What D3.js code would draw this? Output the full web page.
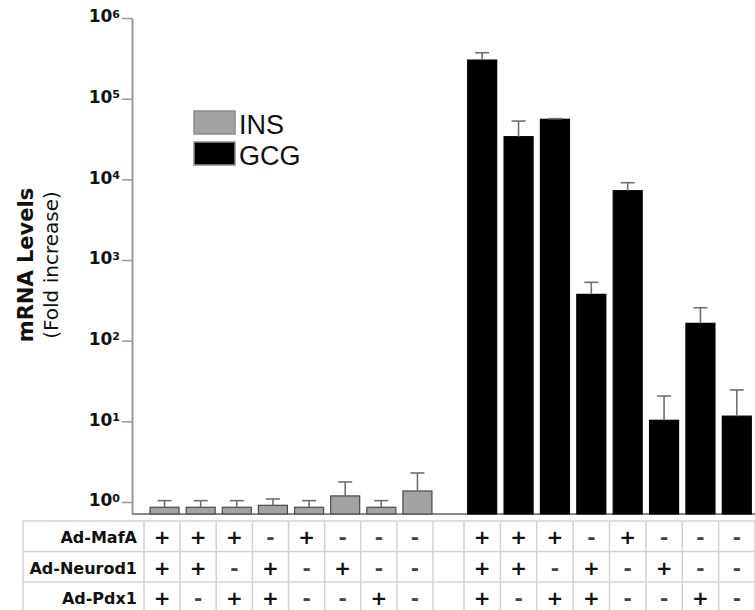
<!DOCTYPE html>
<html>
<head>
<meta charset="utf-8">
<script src="https://cdn.jsdelivr.net/npm/d3@7"></script>
<style>
  body { margin: 0; background: #fff; }
  svg { display: block; font-family: "DejaVu Sans", sans-serif; }
</style>
</head>
<body>
<div id="chartArea"></div>
<script>
// data
const treatments = ["Ad-MafA", "Ad-Neurod1", "Ad-Pdx1"];
const mafA    = ["+", "+", "+", "-", "+", "-", "-", "-"];
const neurod1 = ["+", "+", "-", "+", "-", "+", "-", "-"];
const pdx1    = ["+", "-", "+", "+", "-", "-", "+", "-"];
const insValues = [0.86, 0.86, 0.86, 0.91, 0.86, 1.19, 0.86, 1.37];
const insErrors = [0.18, 0.18, 0.18, 0.18, 0.18, 0.58, 0.18, 0.92];
const gcgValues = [301000, 33800, 55500, 375, 7230, 10.3, 164, 11.6];
const gcgErrors = [70000, 19000, 1000, 154, 1850, 10.3, 92, 12.9];
const yTicks = [1, 10, 100, 1000, 10000, 100000, 1000000];
const seriesNames = ["INS", "GCG"];

// constants
const width = 755, height = 610;
const axisX = 132;
const tableTop = 521, rowHeight = 30.5, tableLeft = 23;
const barWidth = 29;
const colors = { INS: "#a3a3a3", GCG: "#000" };
const strokes = { INS: "#4a4a4a", GCG: "#000" };
const shift = { INS: 2.5, GCG: 0 };   // INS bars sit a bit right of their column centre

var svg = d3.select("#chartArea").append("svg")
    .attr("width", width)
    .attr("height", height);

// slot 0-7 = INS, slot 8 = empty gap, slot 9-16 = GCG
var xScale = d3.scaleLinear().domain([0, 8, 9, 17]).range([144, 433, 464, 755]);
var yScale = d3.scaleLog().domain([0.71, 1e6]).range([514, 18]);

var bars = [];
insValues.forEach(function (v, i) { bars.push({ s: "INS", slot: i, value: v, err: insErrors[i] }); });
gcgValues.forEach(function (v, i) { bars.push({ s: "GCG", slot: i + 9, value: v, err: gcgErrors[i] }); });

function barCenter(d) { return xScale(d.slot + 0.5) + shift[d.s]; }

// y axis
var yAxis = d3.axisLeft(yScale).tickValues(yTicks).tickSize(10).tickPadding(2).tickSizeOuter(0);
var gy = svg.append("g")
    .attr("class", "y axis")
    .attr("transform", "translate(" + axisX + ",0)")
    .call(yAxis);
gy.select(".domain").attr("stroke", "#9a9a9a").attr("stroke-width", 2);
gy.selectAll(".tick line").attr("stroke", "#9a9a9a").attr("stroke-width", 1.5);
gy.selectAll(".tick text").each(function (d) {
    var t = d3.select(this).text(null)
        .attr("dy", "0.22em")
        .attr("font-family", "DejaVu Sans")
        .attr("font-weight", "bold")
        .attr("font-size", 17)
        .attr("fill", "#111");
    t.append("tspan").text("10");
    t.append("tspan").attr("dy", "-0.42em").attr("font-size", 11).text(Math.round(Math.log10(d)));
});

// baseline
svg.append("line")
    .attr("x1", axisX).attr("x2", width)
    .attr("y1", yScale.range()[0]).attr("y2", yScale.range()[0])
    .attr("stroke", "#8a8a8a").attr("stroke-width", 2);

// axis title
svg.append("text")
    .attr("transform", "translate(33,265) rotate(-90)")
    .attr("text-anchor", "middle")
    .attr("font-weight", "bold")
    .attr("font-size", 21)
    .attr("fill", "#111")
    .text("mRNA Levels");
svg.append("text")
    .attr("transform", "translate(58,265) rotate(-90)")
    .attr("text-anchor", "middle")
    .attr("font-size", 20)
    .attr("fill", "#111")
    .text("(Fold increase)");

// bars
svg.selectAll(".bar").data(bars).enter()
    .append("rect")
    .attr("class", "bar")
    .attr("x", function (d) { return barCenter(d) - barWidth / 2; })
    .attr("y", function (d) { return yScale(d.value); })
    .attr("width", barWidth)
    .attr("height", function (d) { return yScale.range()[0] - yScale(d.value); })
    .attr("fill", function (d) { return colors[d.s]; })
    .attr("stroke", function (d) { return strokes[d.s]; })
    .attr("stroke-width", 1.2);

// error bars (upper only)
var errs = svg.selectAll(".err").data(bars).enter().append("g").attr("class", "err")
    .attr("stroke", "#707070").attr("stroke-width", 1.6);
errs.append("line")
    .attr("x1", barCenter)
    .attr("x2", barCenter)
    .attr("y1", function (d) { return yScale(d.value); })
    .attr("y2", function (d) { return yScale(d.value + d.err); });
errs.append("line")
    .attr("x1", function (d) { return barCenter(d) - 7; })
    .attr("x2", function (d) { return barCenter(d) + 7; })
    .attr("y1", function (d) { return yScale(d.value + d.err); })
    .attr("y2", function (d) { return yScale(d.value + d.err); });

// legend
var legend = svg.append("g").attr("class", "legend");
seriesNames.forEach(function (name, i) {
    legend.append("rect")
        .attr("x", 194).attr("y", 111 + i * 31)
        .attr("width", 41).attr("height", 23)
        .attr("fill", colors[name])
        .attr("stroke", "#8c8c8c").attr("stroke-width", 1.5);
    legend.append("text")
        .attr("x", 239).attr("y", 134 + i * 31)
        .attr("font-family", "Liberation Sans, Arial, sans-serif")
        .attr("font-size", 27)
        .attr("fill", "#111")
        .text(name);
});

// treatment table
var table = svg.append("g").attr("class", "table")
    .attr("stroke", "#d2d2d2").attr("stroke-width", 1.5);
for (var r = 0; r <= treatments.length; r++) {
    table.append("line")
        .attr("x1", tableLeft).attr("x2", width)
        .attr("y1", tableTop + r * rowHeight).attr("y2", tableTop + r * rowHeight);
}
var colEdges = [tableLeft].concat(d3.range(0, 18).map(function (k) { return xScale(k); }));
colEdges.forEach(function (x) {
    table.append("line")
        .attr("x1", x).attr("x2", x)
        .attr("y1", tableTop).attr("y2", tableTop + treatments.length * rowHeight);
});

var rows = [mafA, neurod1, pdx1];
var cells = [];
rows.forEach(function (row, r) {
    row.forEach(function (sym, i) {
        cells.push({ r: r, slot: i, sym: sym });
        cells.push({ r: r, slot: i + 9, sym: sym });
    });
});

svg.selectAll(".rowLabel").data(treatments).enter()
    .append("text")
    .attr("class", "rowLabel")
    .attr("x", 137)
    .attr("y", function (d, r) { return tableTop + (r + 0.5) * rowHeight + 7; })
    .attr("text-anchor", "end")
    .attr("font-weight", "bold")
    .attr("font-size", 16)
    .attr("fill", "#111")
    .text(function (d) { return d; });

svg.selectAll(".cell").data(cells).enter()
    .append("text")
    .attr("class", "cell")
    .attr("x", function (d) { return xScale(d.slot + 0.5); })
    .attr("y", function (d) { return tableTop + (d.r + 0.5) * rowHeight + 8; })
    .attr("text-anchor", "middle")
    .attr("font-weight", "bold")
    .attr("font-size", 20)
    .attr("fill", function (d) { return d.sym == "+" ? "#111" : "#444"; })
    .text(function (d) { return d.sym; });
</script>
</body>
</html>
